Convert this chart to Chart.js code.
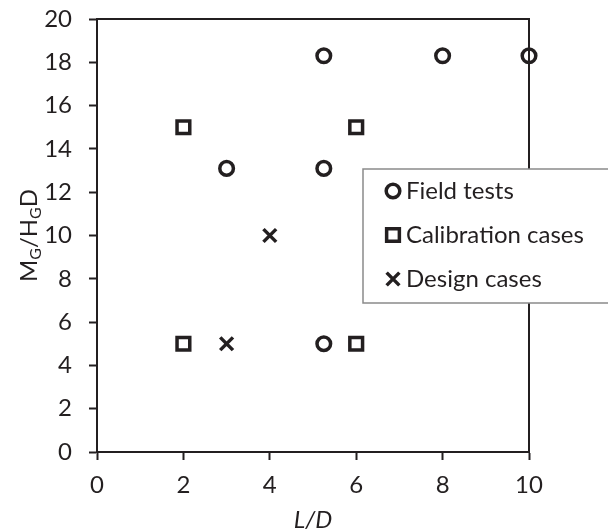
<!DOCTYPE html>
<html>
<head>
<meta charset="utf-8">
<script src="https://cdn.jsdelivr.net/npm/chart.js@4/dist/chart.umd.min.js"></script>
<style>
  html, body { margin: 0; padding: 0; background: #fff; }
  #wrap { width: 608px; height: 529px; position: relative; }
</style>
</head>
<body>
<div id="wrap"><canvas id="chart"></canvas></div>
<script>
// data
const fieldX  = [5.25, 8, 10, 3, 5.25, 5.25];
const fieldY  = [18.3, 18.3, 18.3, 13.1, 13.1, 5];
const calibX  = [2, 6, 2, 6];
const calibY  = [15, 15, 5, 5];
const designX = [4, 3];
const designY = [10, 5];

const seriesNames = ['Field tests', 'Calibration cases', 'Design cases'];
const xTicks = [0, 2, 4, 6, 8, 10];
const yTicks = [0, 2, 4, 6, 8, 10, 12, 14, 16, 18, 20];

const INK  = '#231f20';
const FONT = 'Lato, "Open Sans", sans-serif';
const SIZE = 24;

const toPoints = (xs, ys) => xs.map((x, i) => ({ x, y: ys[i] }));

// frame (top + right), axis titles and the boxed legend
const decor = {
  id: 'decor',
  afterDraw(chart) {
    const { ctx, chartArea: a } = chart;
    ctx.save();
    ctx.strokeStyle = INK;
    ctx.lineWidth = 2;
    ctx.beginPath();
    ctx.moveTo(a.left, a.top);
    ctx.lineTo(a.right, a.top);
    ctx.lineTo(a.right, a.bottom);
    ctx.stroke();

    // x title
    ctx.fillStyle = INK;
    ctx.font = 'italic ' + SIZE + 'px ' + FONT;
    ctx.textAlign = 'center';
    ctx.textBaseline = 'alphabetic';
    ctx.fillText('L/D', (a.left + a.right) / 2, 528);

    // y title with subscripts
    const parts = [['M', false], ['G', true], ['/H', false], ['G', true], ['D', false]];
    const big = SIZE + 'px ' + FONT, small = '16px ' + FONT;
    let w = 0;
    parts.forEach(([t, sub]) => { ctx.font = sub ? small : big; w += ctx.measureText(t).width; });
    ctx.translate(37, (a.top + a.bottom) / 2);
    ctx.rotate(-Math.PI / 2);
    ctx.textAlign = 'left';
    let px = -w / 2;
    parts.forEach(([t, sub]) => {
      ctx.font = sub ? small : big;
      ctx.fillText(t, px, sub ? 4 : 0);
      px += ctx.measureText(t).width;
    });
    ctx.restore();

    // legend box
    ctx.save();
    ctx.fillStyle = '#fff';
    ctx.strokeStyle = '#8a8a8a';
    ctx.lineWidth = 1.5;
    ctx.fillRect(363, 169, 260, 134);
    ctx.strokeRect(363, 169, 260, 134);
    ctx.font = SIZE + 'px ' + FONT;
    ctx.textAlign = 'left';
    ctx.textBaseline = 'middle';
    chart.data.datasets.forEach((ds, i) => {
      const y = 191 + i * 44;
      ctx.strokeStyle = INK;
      ctx.fillStyle = 'transparent';
      ctx.lineWidth = ds.pointBorderWidth;
      Chart.helpers.drawPoint(ctx, { pointStyle: ds.pointStyle, radius: ds.pointRadius, borderWidth: ds.pointBorderWidth }, 393, y);
      ctx.fillStyle = INK;
      ctx.fillText(ds.label, 406, y);
    });
    ctx.restore();
  }
};

const axisStyle = (min, max, ticks) => ({
  type: 'linear',
  min, max,
  afterBuildTicks: s => { s.ticks = ticks.map(v => ({ value: v })); },
  border: { color: INK, width: 2 },
  grid: { drawOnChartArea: false, drawTicks: true, tickLength: 8, tickWidth: 2, tickColor: INK },
  ticks: { color: INK, font: { family: FONT, size: SIZE } }
});

const xAxis = axisStyle(0, 10, xTicks);
xAxis.ticks.padding = 11;
xAxis.afterFit = s => { s.height = 77; s.paddingLeft = 0; s.paddingRight = 0; };

const yAxis = axisStyle(0, 20, yTicks);
yAxis.ticks.padding = 17;
yAxis.afterFit = s => { s.width = 97; s.paddingTop = 0; s.paddingBottom = 0; };

new Chart(document.getElementById('chart'), {
  type: 'scatter',
  data: {
    datasets: [
      {
        label: seriesNames[0],
        data: toPoints(fieldX, fieldY),
        pointStyle: 'circle',
        pointRadius: 6.8,
        pointBorderWidth: 3.5,
        borderColor: INK,
        backgroundColor: 'rgba(0,0,0,0)',
        clip: false
      },
      {
        label: seriesNames[1],
        data: toPoints(calibX, calibY),
        pointStyle: 'rect',
        pointRadius: 9,
        pointBorderWidth: 3.5,
        borderColor: INK,
        backgroundColor: 'rgba(0,0,0,0)',
        clip: false
      },
      {
        label: seriesNames[2],
        data: toPoints(designX, designY),
        pointStyle: 'crossRot',
        pointRadius: 9,
        pointBorderWidth: 3.5,
        borderColor: INK,
        backgroundColor: 'rgba(0,0,0,0)',
        clip: false
      }
    ]
  },
  options: {
    responsive: true,
    maintainAspectRatio: false,
    animation: false,
    layout: { padding: { left: 0, top: 19, right: 79, bottom: 0 } },
    plugins: { legend: { display: false }, tooltip: { enabled: false } },
    scales: { x: xAxis, y: yAxis }
  },
  plugins: [decor]
});
</script>
</body>
</html>
